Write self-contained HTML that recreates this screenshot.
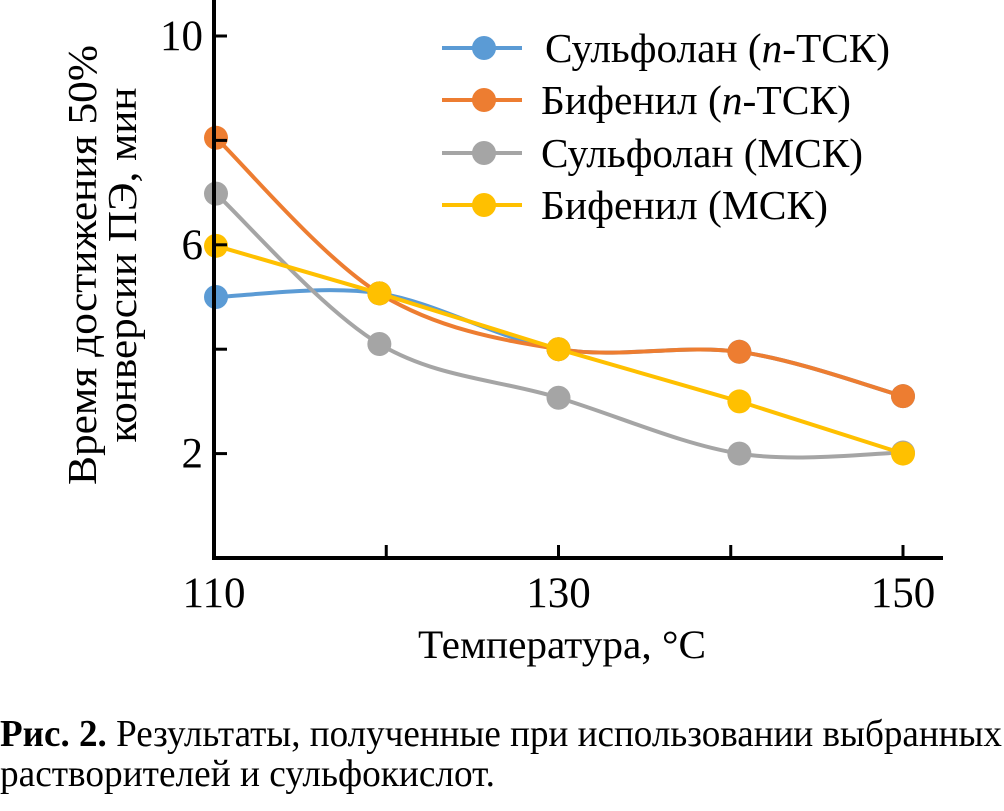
<!DOCTYPE html>
<html><head><meta charset="utf-8">
<style>
html,body{margin:0;padding:0;background:#fff;}
body{width:1004px;height:806px;overflow:hidden;font-family:"Liberation Serif","Noto Serif CJK SC",serif;}
svg text{font-family:"Liberation Serif","Noto Serif CJK SC",serif;fill:#000;}
</style></head>
<body>
<svg id="chart" width="1004" height="806" viewBox="0 0 1004 806" xmlns="http://www.w3.org/2000/svg">
  <g id="plot"></g>
  <g id="axes"></g>
  <g id="legend"></g>
  <text transform="translate(96,265) rotate(-90)" text-anchor="middle" font-size="41" textLength="440" lengthAdjust="spacingAndGlyphs">Время достижения 50%</text>
  <text transform="translate(136,265) rotate(-90)" text-anchor="middle" font-size="41" textLength="355" lengthAdjust="spacingAndGlyphs">конверсии ПЭ, мин</text>
  <text x="418" y="658" font-size="40" textLength="288" lengthAdjust="spacingAndGlyphs">Температура, °C</text>
  <text x="0" y="746" font-size="38" textLength="1002" lengthAdjust="spacingAndGlyphs"><tspan font-weight="bold">Рис. 2.</tspan> Результаты, полученные при использовании выбранных</text>
  <text x="0" y="786" font-size="38" textLength="495" lengthAdjust="spacingAndGlyphs">растворителей и сульфокислот.</text>
</svg>
<script>
const temps = [110, 119.6, 130, 140.5, 150];
const seriesNames = ["Сульфолан (n-ТСК)", "Бифенил (n-ТСК)", "Сульфолан (МСК)", "Бифенил (МСК)"];
const sulfolanPTSA = [5.0, 5.07, 4.0, 3.95, 3.1];
const biphenylPTSA = [8.05, 5.07, 4.0, 3.95, 3.1];
const sulfolanMSA = [6.98, 4.1, 3.07, 2.0, 2.02];
const biphenylMSA = [5.98, 5.07, 4.0, 3.0, 2.0];
const xTicks = [110, 120, 130, 140, 150];
const xTickLabels = ["110", "", "130", "", "150"];
const yTicks = [2, 4, 6, 8, 10];
const yTickLabels = ["2", "", "6", "", "10"];

const NS = "http://www.w3.org/2000/svg";
const X0 = 214, X1 = 903, Y0 = 558;
const xs = v => X0 + (v - 110) * (X1 - X0) / 40;
const ys = v => Y0 - v * 52.2;
function mk(tag, attrs, parent){const e=document.createElementNS(NS,tag);for(const k in attrs)e.setAttribute(k,attrs[k]);parent.appendChild(e);return e;}

const axes = document.getElementById('axes');
const yAxis = mk('line',{x1:X0,y1:0,x2:X0,y2:Y0+2,stroke:'#000','stroke-width':4},axes);


const xAxis = mk('line',{x1:X0-2,y1:Y0,x2:943,y2:Y0,stroke:'#000','stroke-width':4},axes);


yTicks.forEach((t,i)=>{
  const y=ys(t);
  const tk=mk('line',{x1:X0,y1:y,x2:X0+13,y2:y,stroke:'#000','stroke-width':3},axes);
  
  
  if(yTickLabels[i]){
    const tx=mk('text',{x:203,y:y+14,'text-anchor':'end','font-size':43},axes);
    tx.textContent=yTickLabels[i];
    
    
  }
});
xTicks.forEach((t,i)=>{
  const x=xs(t);
  if(i>0){
    const tk=mk('line',{x1:x,y1:Y0,x2:x,y2:Y0-13,stroke:'#000','stroke-width':3},axes);
    
    
  }
  if(xTickLabels[i]){
    const tx=mk('text',{x:x,y:607,'text-anchor':'middle','font-size':43},axes);
    tx.textContent=xTickLabels[i];
    
    
  }
});

function smoothPath(pts){
  let d=`M${pts[0][0]},${pts[0][1]}`;
  for(let i=0;i<pts.length-1;i++){
    const p0=pts[i-1]||pts[i],p1=pts[i],p2=pts[i+1],p3=pts[i+2]||p2;
    const t=1/6;
    const c1=[p1[0]+(p2[0]-p0[0])*t,p1[1]+(p2[1]-p0[1])*t];
    const c2=[p2[0]-(p3[0]-p1[0])*t,p2[1]-(p3[1]-p1[1])*t];
    d+=` C${c1[0]},${c1[1]} ${c2[0]},${c2[1]} ${p2[0]},${p2[1]}`;
  }
  return d;
}
const plot=document.getElementById('plot');
const series=[
  {vals:sulfolanPTSA,color:'#5B9BD5',smooth:true,name:'series-sulfolan-ptsa'},
  {vals:biphenylPTSA,color:'#ED7D31',smooth:true,name:'series-biphenyl-ptsa'},
  {vals:sulfolanMSA,color:'#A5A5A5',smooth:true,name:'series-sulfolan-msa'},
  {vals:biphenylMSA,color:'#FFC000',smooth:false,name:'series-biphenyl-msa'}
];
series.forEach(s=>{
  const g=mk('g',{},plot);
  
  
  const pts=s.vals.map((v,i)=>[xs(temps[i])+(i===0?2:0),ys(v)]);
  const d=s.smooth?smoothPath(pts):'M'+pts.map(p=>p.join(',')).join(' L');
  const ln=mk('path',{d:d,fill:'none',stroke:s.color,'stroke-width':4},g);
  
  
  pts.forEach(p=>{
    const c=mk('circle',{cx:p[0],cy:p[1],r:12,fill:s.color},g);
    
    
  });
});

const legend=document.getElementById('legend');
const legendY=[48,100,153,205];
const legendW=[345,310,322,287];
series.forEach((s,i)=>{
  const g=mk('g',{},legend);
  
  
  mk('line',{x1:442,y1:legendY[i],x2:522,y2:legendY[i],stroke:s.color,'stroke-width':4},g);
  mk('circle',{cx:484,cy:legendY[i],r:12,fill:s.color},g);
  const tx=mk('text',{x:i===0?545:541,y:legendY[i]+14,'font-size':41,textLength:legendW[i],lengthAdjust:'spacingAndGlyphs'},g);
  const parts=seriesNames[i].split('n-');
  if(parts.length===2){
    tx.appendChild(document.createTextNode(parts[0]));
    const it=document.createElementNS(NS,'tspan');it.setAttribute('font-style','italic');it.textContent='n';tx.appendChild(it);
    tx.appendChild(document.createTextNode('-'+parts[1]));
  } else tx.textContent=seriesNames[i];
});
</script>
</body></html>
